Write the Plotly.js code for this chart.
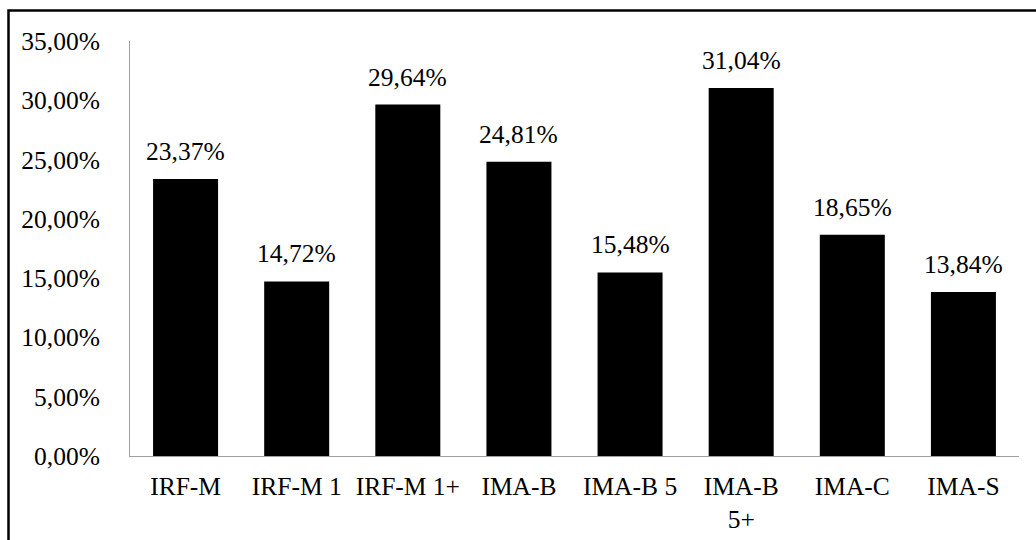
<!DOCTYPE html>
<html>
<head>
<meta charset="utf-8">
<script src="https://cdn.plot.ly/plotly-3.0.1.min.js"></script>
<style>
  html, body { margin: 0; padding: 0; background: #fff; }
  #chart { width: 1036px; height: 540px; }
</style>
</head>
<body>
<div id="chart"></div>
<script>
// Index names and their returns (fractions)
const categories = ['IRF-M', 'IRF-M 1', 'IRF-M 1+', 'IMA-B', 'IMA-B 5', 'IMA-B<br>5+', 'IMA-C', 'IMA-S'];
const returns = [0.2337, 0.1472, 0.2964, 0.2481, 0.1548, 0.3104, 0.1865, 0.1384];
const yTicks = [0, 0.05, 0.10, 0.15, 0.20, 0.25, 0.30, 0.35];

const FONT = '"Liberation Serif", "Times New Roman", Times, serif';
const fmtPct = v => (v * 100).toFixed(2).replace('.', ',') + '%';

const W = 1036, H = 540;
const margin = { l: 130, r: 17, t: 41, b: 84 };
const plotW = W - margin.l - margin.r;
const plotH = H - margin.t - margin.b;
// pixel -> paper helpers for the outer frame
const px = x => (x - margin.l) / plotW;
const py = y => (H - margin.b - y) / plotH;

const trace = {
  type: 'bar',
  x: categories,
  y: returns,
  marker: { color: '#000000', line: { width: 0 } },
  hoverinfo: 'skip'
};

const annotations = categories.map((c, i) => ({
  x: c,
  y: returns[i],
  xref: 'x',
  yref: 'y',
  text: fmtPct(returns[i]),
  showarrow: false,
  yanchor: 'bottom',
  yshift: 11,
  font: { family: FONT, size: 25.5, color: '#000' }
}));

const layout = {
  width: W,
  height: H,
  margin: margin,
  paper_bgcolor: '#fff',
  plot_bgcolor: '#fff',
  separators: ',.',
  showlegend: false,
  bargap: 0.415,
  font: { family: FONT, size: 25.5, color: '#000' },
  xaxis: {
    type: 'category',
    showline: true,
    linecolor: '#a0a0a0',
    linewidth: 1,
    ticks: '',
    showgrid: false,
    zeroline: false,
    ticklabelstandoff: 7,
    tickfont: { family: FONT, size: 25.5, color: '#000' }
  },
  yaxis: {
    range: [0, 0.35],
    tickvals: yTicks,
    tickformat: '.2%',
    showline: true,
    linecolor: '#a0a0a0',
    linewidth: 1,
    ticks: '',
    showgrid: false,
    zeroline: false,
    ticklabelstandoff: 24,
    tickfont: { family: FONT, size: 25.5, color: '#000' }
  },
  annotations: annotations,
  shapes: [{
    type: 'rect',
    xref: 'paper', yref: 'paper',
    x0: px(8.5), x1: px(1100),
    y0: py(600), y1: py(10.5),
    line: { color: '#000', width: 2.5 },
    fillcolor: 'rgba(0,0,0,0)',
    layer: 'above'
  }]
};

Plotly.newPlot('chart', [trace], layout, { displayModeBar: false, staticPlot: true });
</script>
</body>
</html>
